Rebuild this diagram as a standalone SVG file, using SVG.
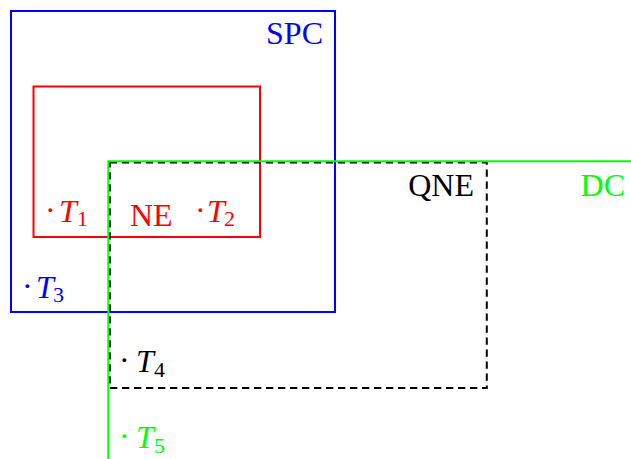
<svg xmlns="http://www.w3.org/2000/svg" width="631" height="459" viewBox="0 0 631 459">
<style>
text{font-family:"Liberation Serif","Times New Roman",serif;font-size:32px}
.it{font-style:italic}
.sub{font-size:22px}
.box{fill:none;stroke-width:2}
.blue{fill:#0000ff}.red{fill:#ff0000}.green{fill:#00ff00}.black{fill:#000}
</style>
<rect width="631" height="459" fill="#fff"/>
<g id="SPC">
<rect class="box" x="11" y="11" width="324" height="301" stroke="#0000ff"/>
<text class="blue" x="323" y="44" text-anchor="end">SPC</text>
<text class="blue"><tspan x="22" y="297">·</tspan><tspan class="it" x="36" y="298">T</tspan><tspan class="sub" x="53" y="302">3</tspan></text>
</g>
<g id="NE">
<rect class="box" x="33.5" y="86.5" width="226.5" height="150.5" stroke="#ff0000"/>
<text class="red" x="130" y="226">NE</text>
<text class="red"><tspan x="45" y="221">·</tspan><tspan class="it" x="59" y="222">T</tspan><tspan class="sub" x="77" y="226">1</tspan></text>
<text class="red"><tspan x="195" y="221">·</tspan><tspan class="it" x="207" y="222">T</tspan><tspan class="sub" x="224" y="226">2</tspan></text>
</g>
<g id="QNE">
<rect class="box" x="109.8" y="162.5" width="377" height="225.5" stroke="#000" stroke-dasharray="7.3 4.7"/>
<text class="black" x="474" y="196" text-anchor="end">QNE</text>
<text class="black"><tspan x="119" y="371">·</tspan><tspan class="it" x="136" y="372">T</tspan><tspan class="sub" x="154" y="377">4</tspan></text>
</g>
<g id="DC">
<path class="box" d="M108.3 459 V161.3 H631" stroke="#00ff00"/>
<text class="green" x="625" y="196" text-anchor="end">DC</text>
<text class="green"><tspan x="119" y="447">·</tspan><tspan class="it" x="136" y="448">T</tspan><tspan class="sub" x="154" y="453">5</tspan></text>
</g>
</svg>
